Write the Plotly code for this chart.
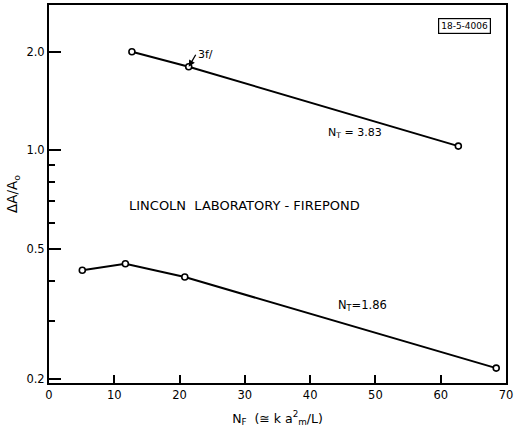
import math
import plotly.graph_objects as go

# Measured amplitude ratio versus Fresnel number for two values of N_T
nf_high = [12.7, 21.4, 62.7]
ratio_high = [2.0, 1.80, 1.03]

nf_low = [5.1, 11.7, 20.8, 68.5]
ratio_low = [0.43, 0.45, 0.41, 0.216]

x_ticks = [0, 10, 20, 30, 40, 50, 60, 70]
y_ticks = [0.2, 0.5, 1.0, 2.0]
y_tick_text = ["0.2", "0.5", "1.0", "2.0"]
y_minor = [0.3, 0.4, 0.6, 0.7, 0.8, 0.9]

FONT = "DejaVu Sans"

fig = go.Figure()

for xs, ys in ((nf_high, ratio_high), (nf_low, ratio_low)):
    fig.add_trace(go.Scatter(
        x=xs, y=ys, mode="lines+markers",
        line=dict(color="black", width=2),
        marker=dict(symbol="circle", size=6, color="white",
                    line=dict(color="black", width=1.6)),
        showlegend=False,
    ))

fig.update_layout(
    width=516, height=437,
    margin=dict(l=49, r=6, t=3, b=54),
    paper_bgcolor="white", plot_bgcolor="white",
    font=dict(family=FONT, size=11.5, color="black"),
    xaxis=dict(
        range=[0, 70], tickvals=x_ticks, ticks="inside", ticklen=8,
        tickwidth=1.5, tickcolor="black", showgrid=False, zeroline=False,
        showline=True, linecolor="black", linewidth=2, mirror=True,
        ticklabeloverflow="allow",
        title=dict(text="N<sub>F</sub>  (≅ k a<sup>2</sup><sub>m</sub>/L)",
                   font=dict(size=12.5), standoff=13),
    ),
    yaxis=dict(
        type="log", range=[-0.711, 0.444],
        tickvals=y_ticks, ticktext=y_tick_text,
        ticks="inside", ticklen=12, tickwidth=1.5, tickcolor="black",
        minor=dict(tickvals=y_minor, ticks="inside", ticklen=6,
                   tickwidth=1.5, tickcolor="black", showgrid=False),
        showgrid=False, zeroline=False,
        showline=True, linecolor="black", linewidth=2, mirror=True,
        title=dict(text="ΔA/A<sub>o</sub>", font=dict(size=13.5), standoff=6),
    ),
)

lg = math.log10  # annotations on a log axis take log10 positions

fig.add_annotation(x=42.5, y=lg(1.13), text="N<sub>T</sub> = 3.83",
                   showarrow=False, font=dict(size=11), xanchor="left")
fig.add_annotation(x=43.9, y=lg(0.336), text="N<sub>T</sub>=1.86",
                   showarrow=False, font=dict(size=11.5), xanchor="left")
fig.add_annotation(x=29.9, y=lg(0.68), text="LINCOLN  LABORATORY - FIREPOND",
                   showarrow=False, font=dict(size=13))
fig.add_annotation(x=21.4, y=lg(1.80), text="3f/",
                   showarrow=True, arrowhead=2, arrowsize=1, arrowwidth=1.3,
                   arrowcolor="black", ax=7, ay=-12, xanchor="left",
                   font=dict(size=11))

# report number box, positioned in pixels within the plot area
w, h = 516 - 49 - 6, 437 - 3 - 54
fig.add_annotation(x=(468 - 49) / w, y=1 - (24.5 - 3) / h,
                   xref="paper", yref="paper", text="18-5-4006",
                   xanchor="center", yanchor="middle",
                   showarrow=False, font=dict(size=9),
                   bordercolor="black", borderwidth=1.2, borderpad=2)

fig.write_html("out.html")
